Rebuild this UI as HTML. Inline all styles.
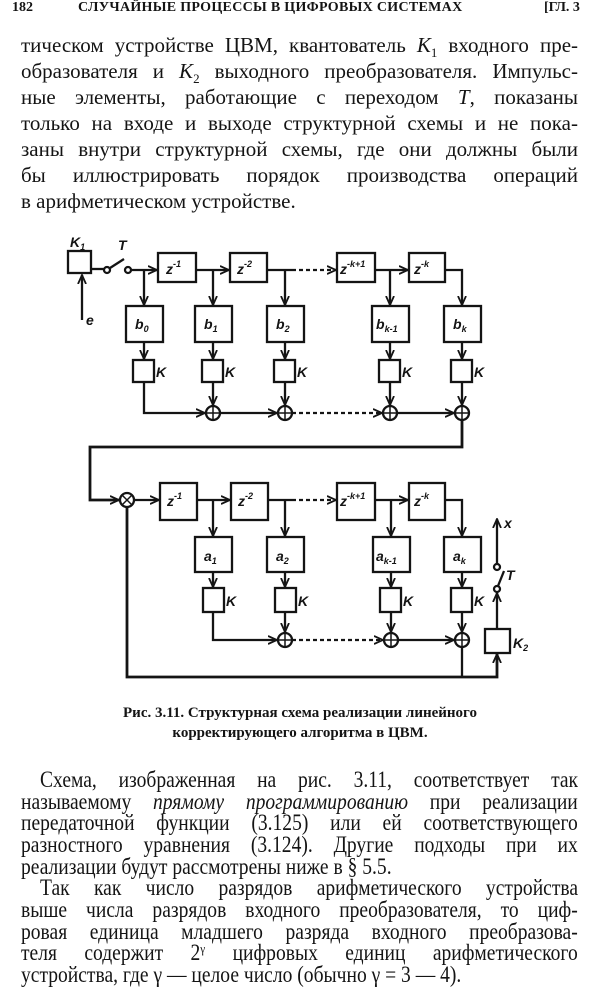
<!DOCTYPE html>
<html><head><meta charset="utf-8"><style>
html,body{margin:0;padding:0;background:#fff;}
body{width:600px;height:997px;position:relative;overflow:hidden;color:#141414;font-family:"Liberation Serif","Noto Serif CJK SC",serif;}
.l{position:absolute;left:21px;width:557px;height:26px;line-height:26px;font-size:21px;text-align:justify;text-align-last:justify;white-space:nowrap;}
.b{height:22px;line-height:22px;font-size:23px;width:655px;transform:scaleX(0.85);transform-origin:0 0;}
.nl{text-align-last:left;}
.hd{position:absolute;top:0;font-size:14px;font-weight:bold;}
.cap{position:absolute;left:0;width:600px;text-align:center;font-size:15px;font-weight:bold;line-height:20px;}
svg{position:absolute;left:0;top:0;}
svg text{font-family:"Liberation Sans",sans-serif;font-style:italic;font-weight:bold;fill:#141414;}
</style></head><body>
<div class="hd" style="left:12px;">182</div>
<div class="hd" style="left:78px;letter-spacing:0.3px;">СЛУЧАЙНЫЕ ПРОЦЕССЫ В ЦИФРОВЫХ СИСТЕМАХ</div>
<div class="hd" style="left:544px;">[ГЛ. 3</div>

<div class="l" style="top:32px">тическом устройстве ЦВМ, квантователь <i>K</i><sub style="font-size:13px">1</sub> входного пре-</div>
<div class="l" style="top:58px">образователя и <i>K</i><sub style="font-size:13px">2</sub> выходного преобразователя. Импульс-</div>
<div class="l" style="top:84px">ные элементы, работающие с переходом <i>T</i>, показаны</div>
<div class="l" style="top:110px">только на входе и выходе структурной схемы и не пока-</div>
<div class="l" style="top:136px">заны внутри структурной схемы, где они должны были</div>
<div class="l" style="top:162px">бы иллюстрировать порядок производства операций</div>
<div class="l nl" style="top:188px">в арифметическом устройстве.</div>

<svg width="600" height="997" viewBox="0 0 600 997">
<defs><marker id="a" markerWidth="10" markerHeight="10" refX="9" refY="5" orient="auto" markerUnits="userSpaceOnUse"><path d="M0,1 L9,5 L0,9" fill="none" stroke="#141414" stroke-width="1.8"/></marker></defs>
<g stroke="#141414" stroke-width="2.3" fill="none">
<rect x="68" y="251" width="23" height="22"/>
<path d="M82,320 V275" marker-end="url(#a)"/>
<path d="M91,269 H104"/>
<circle cx="107" cy="270" r="3"/><circle cx="128" cy="270" r="3"/>
<path d="M110,268 L124,259"/>
<path d="M131,270 H157" marker-end="url(#a)"/>
<rect x="158" y="253" width="38" height="29"/>
<path d="M196,270 H229" marker-end="url(#a)"/>
<rect x="230" y="253" width="37" height="29"/>
<path d="M267,270 H292"/><path d="M292,270 H336" stroke-dasharray="4,3" marker-end="url(#a)"/>
<rect x="337" y="253" width="38" height="29"/>
<path d="M375,270 H408" marker-end="url(#a)"/>
<rect x="409" y="253" width="36" height="29"/>
<path d="M445,270 H462 V305" marker-end="url(#a)"/>
<path d="M144,270 V305" marker-end="url(#a)"/>
<path d="M213,270 V305" marker-end="url(#a)"/>
<path d="M285,270 V305" marker-end="url(#a)"/>
<path d="M390,270 V305" marker-end="url(#a)"/>
<rect x="126" y="306" width="37" height="36"/>
<rect x="195" y="306" width="37" height="36"/>
<rect x="267" y="306" width="37" height="36"/>
<rect x="372" y="306" width="37" height="36"/>
<rect x="444" y="306" width="37" height="36"/>
<path d="M144,342 V359" marker-end="url(#a)"/>
<path d="M213,342 V359" marker-end="url(#a)"/>
<path d="M285,342 V359" marker-end="url(#a)"/>
<path d="M390,342 V359" marker-end="url(#a)"/>
<path d="M462,342 V359" marker-end="url(#a)"/>
<rect x="133" y="360" width="21" height="22"/>
<rect x="202" y="360" width="21" height="22"/>
<rect x="274" y="360" width="21" height="22"/>
<rect x="379" y="360" width="21" height="22"/>
<rect x="451" y="360" width="21" height="22"/>
<path d="M144,382 V413 H205" marker-end="url(#a)"/>
<path d="M213,382 V405" marker-end="url(#a)"/>
<path d="M285,382 V405" marker-end="url(#a)"/>
<path d="M390,382 V405" marker-end="url(#a)"/>
<path d="M462,382 V405" marker-end="url(#a)"/>
<path d="M220,413 H277" marker-end="url(#a)"/>
<path d="M292,413 H382" stroke-dasharray="4,3" marker-end="url(#a)"/>
<path d="M397,413 H454" marker-end="url(#a)"/>
<circle cx="213" cy="413" r="7"/><circle cx="285" cy="413" r="7"/><circle cx="390" cy="413" r="7"/><circle cx="462" cy="413" r="7"/>
<path d="M206,413H220M213,406V420M278,413H292M285,406V420M383,413H397M390,406V420M455,413H469M462,406V420" stroke-width="1.5"/>
<path d="M462,420 V447 H90 V500 H119" stroke-width="2.8" marker-end="url(#a)"/>
<circle cx="127" cy="500" r="7"/>
<path d="M122,495 L132,505 M132,495 L122,505" stroke-width="1.5"/>
<path d="M134,500 H159" marker-end="url(#a)"/>
<rect x="160" y="483" width="37" height="37"/>
<path d="M197,500 H230" marker-end="url(#a)"/>
<rect x="231" y="483" width="37" height="37"/>
<path d="M268,500 H292"/><path d="M292,500 H336" stroke-dasharray="4,3" marker-end="url(#a)"/>
<rect x="337" y="483" width="38" height="37"/>
<path d="M375,500 H408" marker-end="url(#a)"/>
<rect x="409" y="483" width="36" height="37"/>
<path d="M445,500 H462 V536" marker-end="url(#a)"/>
<path d="M213,500 V536" marker-end="url(#a)"/>
<path d="M285,500 V536" marker-end="url(#a)"/>
<path d="M391,500 V536" marker-end="url(#a)"/>
<rect x="195" y="537" width="37" height="35"/>
<rect x="267" y="537" width="37" height="35"/>
<rect x="373" y="537" width="37" height="35"/>
<rect x="444" y="537" width="37" height="35"/>
<path d="M213,572 V587" marker-end="url(#a)"/>
<path d="M285,572 V587" marker-end="url(#a)"/>
<path d="M391,572 V587" marker-end="url(#a)"/>
<path d="M462,572 V587" marker-end="url(#a)"/>
<rect x="203" y="588" width="21" height="24"/>
<rect x="275" y="588" width="21" height="24"/>
<rect x="380" y="588" width="21" height="24"/>
<rect x="451" y="588" width="21" height="24"/>
<path d="M213,612 V640 H277" marker-end="url(#a)"/>
<path d="M285,612 V632" marker-end="url(#a)"/>
<path d="M391,612 V632" marker-end="url(#a)"/>
<path d="M462,612 V632" marker-end="url(#a)"/>
<path d="M292,640 H383" stroke-dasharray="4,3" marker-end="url(#a)"/>
<path d="M398,640 H454" marker-end="url(#a)"/>
<circle cx="285" cy="640" r="7"/><circle cx="391" cy="640" r="7"/><circle cx="462" cy="640" r="7"/>
<path d="M278,640H292M285,633V647M384,640H398M391,633V647M455,640H469M462,633V647" stroke-width="1.5"/>
<path d="M462,647 V677"/>
<path d="M127,507 V677 H497 V654" stroke-width="2.8" marker-end="url(#a)"/>
<rect x="485" y="629" width="25" height="24"/>
<path d="M497,629 V593" marker-end="url(#a)"/>
<circle cx="497" cy="589" r="3"/><circle cx="497" cy="567" r="3"/>
<path d="M498,586 L504,571"/>
<path d="M497,564 V519" marker-end="url(#a)"/>
</g>
<g font-size="14">
<text x="70" y="247">K<tspan font-size="9" dy="3">1</tspan></text>
<text x="118" y="250">T</text>
<text x="86" y="325">e</text>
<text x="166" y="274">z<tspan font-size="9" dy="-7">-1</tspan></text>
<text x="237" y="274">z<tspan font-size="9" dy="-7">-2</tspan></text>
<text x="340" y="274">z<tspan font-size="9" dy="-7">-k+1</tspan></text>
<text x="414" y="274">z<tspan font-size="9" dy="-7">-k</tspan></text>
<text x="135" y="329">b<tspan font-size="9" dy="3">0</tspan></text>
<text x="204" y="329">b<tspan font-size="9" dy="3">1</tspan></text>
<text x="276" y="329">b<tspan font-size="9" dy="3">2</tspan></text>
<text x="376" y="329">b<tspan font-size="9" dy="3">k-1</tspan></text>
<text x="453" y="329">b<tspan font-size="9" dy="3">k</tspan></text>
<text x="156" y="377">K</text><text x="225" y="377">K</text><text x="297" y="377">K</text><text x="402" y="377">K</text><text x="474" y="377">K</text>
<text x="167" y="506">z<tspan font-size="9" dy="-7">-1</tspan></text>
<text x="238" y="506">z<tspan font-size="9" dy="-7">-2</tspan></text>
<text x="340" y="506">z<tspan font-size="9" dy="-7">-k+1</tspan></text>
<text x="414" y="506">z<tspan font-size="9" dy="-7">-k</tspan></text>
<text x="204" y="561">a<tspan font-size="9" dy="3">1</tspan></text>
<text x="276" y="561">a<tspan font-size="9" dy="3">2</tspan></text>
<text x="376" y="561">a<tspan font-size="9" dy="3">k-1</tspan></text>
<text x="453" y="561">a<tspan font-size="9" dy="3">k</tspan></text>
<text x="226" y="606">K</text><text x="298" y="606">K</text><text x="403" y="606">K</text><text x="474" y="606">K</text>
<text x="504" y="528">x</text>
<text x="506" y="580">T</text>
<text x="513" y="648">K<tspan font-size="9" dy="3">2</tspan></text>
</g>
</svg>

<div class="cap" style="top:703px">Рис. 3.11. Структурная схема реализации линейного</div>
<div class="cap" style="top:723px">корректирующего алгоритма в ЦВМ.</div>

<div class="l b" style="top:769px;left:40px;width:633px">Схема, изображенная на рис. 3.11, соответствует так</div>
<div class="l b" style="top:791px">называемому <i>прямому программированию</i> при реализации</div>
<div class="l b" style="top:812px">передаточной функции (3.125) или ей соответствующего</div>
<div class="l b" style="top:834px">разностного уравнения (3.124). Другие подходы при их</div>
<div class="l b nl" style="top:856px">реализации будут рассмотрены ниже в § 5.5.</div>
<div class="l b" style="top:877px;left:40px;width:633px">Так как число разрядов арифметического устройства</div>
<div class="l b" style="top:899px">выше числа разрядов входного преобразователя, то циф-</div>
<div class="l b" style="top:921px">ровая единица младшего разряда входного преобразова-</div>
<div class="l b" style="top:942px">теля содержит 2<span style="font-size:13px;vertical-align:7px;line-height:0">γ</span> цифровых единиц арифметического</div>
<div class="l b nl" style="top:964px">устройства, где γ — целое число (обычно γ = 3 — 4).</div>
</body></html>
